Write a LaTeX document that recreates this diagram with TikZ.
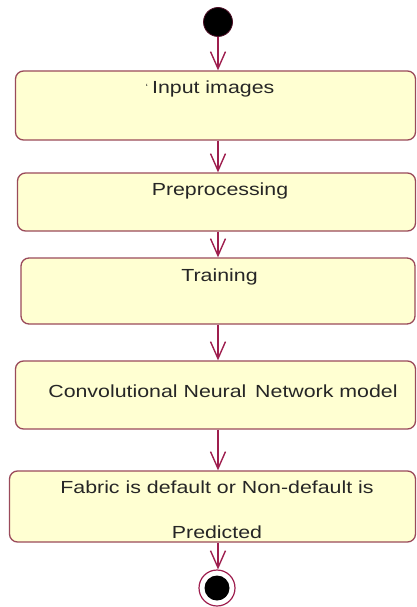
\documentclass[tikz,border=0pt]{standalone}
\usepackage{fontspec}
\setmainfont{Liberation Sans}[FakeStretch=1.22]
\usetikzlibrary{arrows.meta}
\definecolor{boxfill}{HTML}{FFFFD2}
\definecolor{boxline}{HTML}{9A4A5A}
\definecolor{arrowc}{HTML}{9E1E4E}
\begin{document}
\begin{tikzpicture}[x=1pt,y=-1pt,
  actbox/.style={draw=boxline, line width=1.3pt, fill=boxfill, rounded corners=8pt, inner sep=0pt},
  flow/.style={draw=arrowc, line width=1.4pt, -{Straight Barb[length=17pt,width=15pt,line width=1.4pt]}},
  lbl/.style={font=\fontsize{17.5}{20}\selectfont, text=black!85, inner sep=0pt, anchor=base}
]
\useasboundingbox (0,0) rectangle (417,607);
\coordinate (ax) at (218,0);

% start node
\node[circle, fill=black, draw=arrowc!50!black, line width=0.8pt, minimum size=29pt, inner sep=0pt] (s) at (218,22) {};

% activity boxes
\node[actbox, minimum width=400pt, minimum height=69pt] (b1) at (215.5,105.5) {};
\node[actbox, minimum width=398pt, minimum height=58pt] (b2) at (216.5,202) {};
\node[actbox, minimum width=394pt, minimum height=66pt] (b3) at (218,291) {};
\node[actbox, minimum width=400pt, minimum height=68pt] (b4) at (215.5,395) {};
\node[actbox, minimum width=406pt, minimum height=71pt] (b5) at (212.5,506.5) {};

% end node
\node[circle, draw=arrowc, fill=white, line width=1.2pt, minimum size=36pt, inner sep=0pt] (e) at (217,588) {};
\node[circle, fill=black, minimum size=25pt, inner sep=0pt] (ei) at (e.center) {};

% texts
\node[lbl] (t1) at (210,94) {{\fontsize{9}{9}\selectfont\raisebox{3pt}{`}}\hspace{4pt}Input images};
\node[lbl] (t2) at (220,195) {Preprocessing};
\node[lbl] (t3) at (219.5,281) {Training};
\node[lbl] (t4) at (223,397) {Convolutional Neural\hspace{0.5em}Network model};
\node[lbl] (t5) at (217,493) {Fabric is default or Non-default is};
\node[lbl] (t6) at (217,538) {Predicted};

% connectors
\draw[flow] (s.south) -- (b1.north -| s);
\draw[flow] (b1.south -| ax) -- (b2.north -| ax);
\draw[flow] (b2.south -| ax) -- (b3.north -| ax);
\draw[flow] (b3.south -| ax) -- (b4.north -| ax);
\draw[flow] (b4.south -| ax) -- (b5.north -| ax);
\draw[flow] (b5.south -| ax) -- (e.north -| ax);
\end{tikzpicture}
\end{document}
